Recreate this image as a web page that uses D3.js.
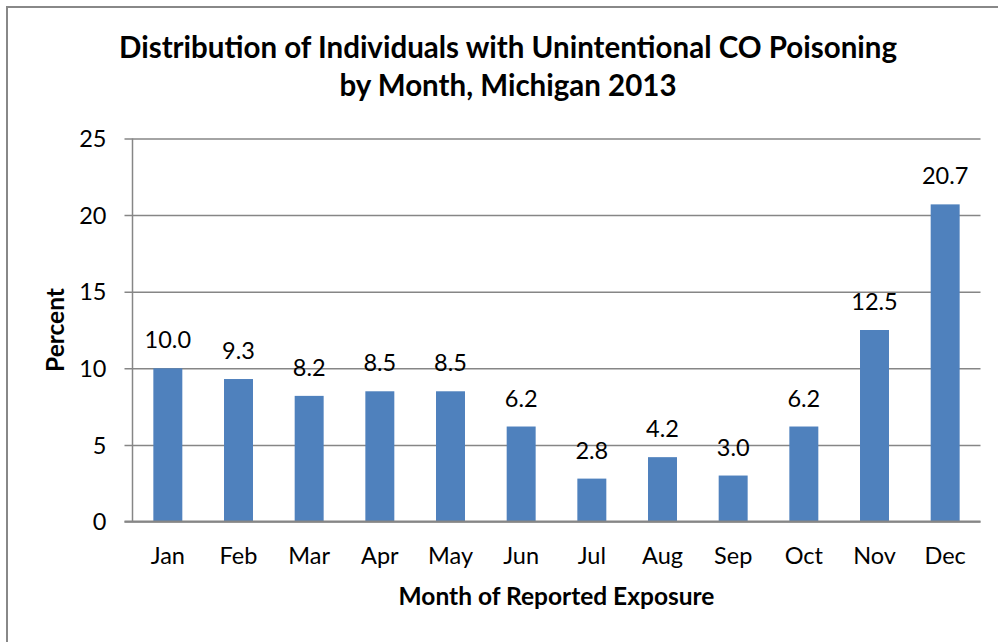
<!DOCTYPE html>
<html>
<head>
<meta charset="utf-8">
<script src="https://cdn.jsdelivr.net/npm/d3@7"></script>
<style>
  body { margin: 0; background: #fff; }
  text { font-family: Lato, "Open Sans", sans-serif; fill: #000; }
</style>
</head>
<body>
<svg id="chart" width="998" height="642"></svg>
<script>
// chart data
var months = ["Jan", "Feb", "Mar", "Apr", "May", "Jun", "Jul", "Aug", "Sep", "Oct", "Nov", "Dec"];
var percents = [10.0, 9.3, 8.2, 8.5, 8.5, 6.2, 2.8, 4.2, 3.0, 6.2, 12.5, 20.7];
var yTicks = [0, 5, 10, 15, 20, 25];
var titleLines = ["Distribution of Individuals with Unintentional CO Poisoning", "by Month, Michigan 2013"];

var svg = d3.select("#chart");

// outer chart border (right and bottom fall outside the picture)
svg.append("rect")
    .attr("x", 7).attr("y", 7)
    .attr("width", 1100).attr("height", 800)
    .attr("fill", "none")
    .attr("stroke", "#888")
    .attr("stroke-width", 2);

var plotL = 132.5, plotR = 980.5, plotT = 138.5, plotB = 521.5;

var x = d3.scaleBand()
    .domain(months)
    .range([plotL, plotR])
    .paddingInner(0.59)
    .paddingOuter(0.295);

var y = d3.scaleLinear()
    .domain([0, 25])
    .range([plotB, plotT]);

// gridlines + y axis
var yAxis = d3.axisLeft(y)
    .tickValues(yTicks)
    .tickSize(-(plotR - plotL))
    .tickPadding(0)
    .tickFormat(d3.format("d"));

var gy = svg.append("g")
    .attr("transform", "translate(" + plotL + ",0)")
    .call(yAxis);
gy.select(".domain").remove();
gy.selectAll(".tick line")
    .attr("x1", -8)
    .attr("stroke", "#868686")
    .attr("stroke-width", 1.5);
gy.selectAll(".tick text")
    .attr("x", -26)
    .attr("dy", "0.35em")
    .style("font-size", "23.5px")
    .style("text-anchor", "end")
    .attr("fill", "#000");

// y axis line
svg.append("line")
    .attr("x1", plotL).attr("x2", plotL)
    .attr("y1", plotT).attr("y2", plotB)
    .attr("stroke", "#868686")
    .attr("stroke-width", 1.5);

// bars
svg.selectAll(".bar")
    .data(percents)
  .enter().append("rect")
    .attr("class", "bar")
    .attr("x", function(d, i) { return x(months[i]); })
    .attr("y", function(d) { return y(d); })
    .attr("width", x.bandwidth())
    .attr("height", function(d) { return plotB - y(d); })
    .attr("fill", "#4F81BD");

// x axis line on top of bars
svg.append("line")
    .attr("x1", plotL - 8).attr("x2", plotR)
    .attr("y1", plotB).attr("y2", plotB)
    .attr("stroke", "#868686")
    .attr("stroke-width", 2);

// value labels
svg.selectAll(".val")
    .data(percents)
  .enter().append("text")
    .attr("class", "val")
    .attr("x", function(d, i) { return x(months[i]) + x.bandwidth() / 2; })
    .attr("y", function(d) { return y(d) - 20; })
    .attr("text-anchor", "middle")
    .style("font-size", "23.5px")
    .text(function(d) { return d.toFixed(1); });

// month labels
var xAxis = d3.axisBottom(x).tickSize(0).tickPadding(0);
var gx = svg.append("g")
    .attr("transform", "translate(0," + plotB + ")")
    .call(xAxis);
gx.select(".domain").remove();
gx.selectAll(".tick text")
    .attr("y", 42)
    .attr("dy", 0)
    .style("font-size", "23.5px")
    .attr("fill", "#000");

// axis titles
svg.append("text")
    .attr("x", (plotL + plotR) / 2)
    .attr("y", 605)
    .attr("text-anchor", "middle")
    .style("font-size", "24.5px")
    .style("font-weight", "bold")
    .text("Month of Reported Exposure");

svg.append("text")
    .attr("transform", "translate(64," + ((plotT + plotB) / 2) + ") rotate(-90)")
    .attr("text-anchor", "middle")
    .style("font-size", "24.5px")
    .style("font-weight", "bold")
    .text("Percent");

// title
svg.selectAll(".title")
    .data(titleLines)
  .enter().append("text")
    .attr("class", "title")
    .attr("x", 508)
    .attr("y", function(d, i) { return 58 + i * 38; })
    .attr("text-anchor", "middle")
    .style("font-size", "29.5px")
    .style("font-weight", "bold")
    .text(function(d) { return d; });
</script>
</body>
</html>
